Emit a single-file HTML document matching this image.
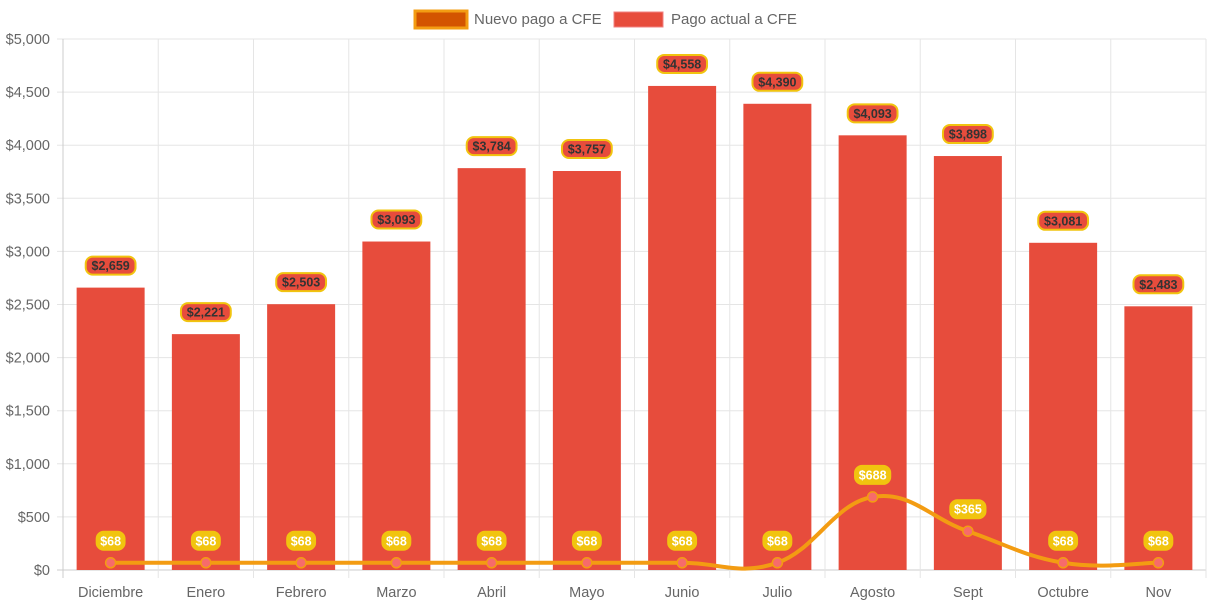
<!DOCTYPE html>
<html><head><meta charset="utf-8"><style>
body{margin:0;background:#fff;}
svg{display:block;font-family:"Liberation Sans",sans-serif;}
</style></head><body>
<svg id="c" width="1213" height="606"></svg>
<script>
const categories=["Diciembre","Enero","Febrero","Marzo","Abril","Mayo","Junio","Julio","Agosto","Sept","Octubre","Nov"];
const actualValues=[2659,2221,2503,3093,3784,3757,4558,4390,4093,3898,3081,2483];
const newValues=[68,68,68,68,68,68,68,68,688,365,68,68];
const yTicks=[0,500,1000,1500,2000,2500,3000,3500,4000,4500,5000];
const X0=63,X1=1206,Y0=570,Y1=39,YMAX=5000;
const step=(X1-X0)/categories.length;
const xc=i=>X0+step*(i+0.5);
const y=v=>Y0-(v/YMAX)*(Y0-Y1);
const svg=document.getElementById('c');
const NS='http://www.w3.org/2000/svg';
function mk(t,a,p){const e=document.createElementNS(NS,t);for(const k in a)e.setAttribute(k,a[k]);(p||svg).appendChild(e);return e;}
const fmt=v=>'$'+v.toLocaleString('en-US');
// grid
yTicks.forEach(v=>{
 const l=mk('line',{x1:X0-6,x2:X1,y1:y(v),y2:y(v),stroke:v===0?'#ccc':'#e5e5e5','stroke-width':1});
 
 
 const t=mk('text',{x:X0-13,y:y(v)+5,'text-anchor':'end','font-size':14.5,fill:'#666'});
 t.textContent=fmt(v);
 
 
});
for(let i=0;i<=categories.length;i++){
 const x=X0+step*i;
 const l=mk('line',{x1:x,x2:x,y1:Y1,y2:Y0+8,stroke:i===0?'#ccc':'#e5e5e5','stroke-width':1});
 
 
}
categories.forEach((c,i)=>{
 const t=mk('text',{x:xc(i),y:597,'text-anchor':'middle','font-size':14.5,fill:'#666'});
 t.textContent=c;
 
 
});
// bars
const bw=68;
actualValues.forEach((v,i)=>{
 const r=mk('rect',{x:xc(i)-bw/2,y:y(v),width:bw,height:Y0-y(v),fill:'#e74c3c'});
 
 
});
// line (cardinal spline)
const pts=newValues.map((v,i)=>[xc(i),y(v)]);
let d='M'+pts[0][0]+','+pts[0][1];
const tn=0.4;
for(let i=0;i<pts.length-1;i++){
 const p0=pts[Math.max(0,i-1)],p1=pts[i],p2=pts[i+1],p3=pts[Math.min(pts.length-1,i+2)];
 const c1=[p1[0]+(p2[0]-p0[0])*tn/2,p1[1]+(p2[1]-p0[1])*tn/2];
 const c2=[p2[0]-(p3[0]-p1[0])*tn/2,p2[1]-(p3[1]-p1[1])*tn/2];
 d+=` C${c1[0]},${c1[1]} ${c2[0]},${c2[1]} ${p2[0]},${p2[1]}`;
}
const ln=mk('path',{d:d,fill:'none',stroke:'#f39c12','stroke-width':4});


pts.forEach((p,i)=>{
 const c=mk('circle',{cx:p[0],cy:p[1],r:5,fill:'#f76b6b',stroke:'#f39c12','stroke-width':1.5});
 
 
});
// labels
function label(x,cy,txt,bg,border,color){
 const g=mk('g',{});
 const w=txt.length*7.3+6;
 mk('rect',{x:x-w/2,y:cy-9,width:w,height:18,rx:7,fill:bg,stroke:border,'stroke-width':2},g);
 const t=mk('text',{x:x,y:cy+4.5,'text-anchor':'middle','font-size':12.5,'font-weight':'bold',fill:color},g);
 t.textContent=txt;
 return g;
}
actualValues.forEach((v,i)=>{
 const g=label(xc(i),y(v)-22,fmt(v),'#e74c3c','#f1c40f','#333');
 
 
});
newValues.forEach((v,i)=>{
 const g=label(xc(i),y(v)-22,fmt(v),'#f1c40f','#f1c40f','#fff');
 
 
});
// legend
const lg=mk('g',{});


const l1=mk('rect',{x:415,y:11,width:52,height:17,fill:'#d35400',stroke:'#f39c12','stroke-width':3},lg);


const t1=mk('text',{x:474,y:24,'font-size':15,fill:'#666'},lg);t1.textContent='Nuevo pago a CFE';


const l2=mk('rect',{x:614,y:12,width:49,height:15,fill:'#e74c3c',stroke:'#f08080','stroke-width':1},lg);


const t2=mk('text',{x:671,y:24,'font-size':15,fill:'#666'},lg);t2.textContent='Pago actual a CFE';


</script>
</body></html>
